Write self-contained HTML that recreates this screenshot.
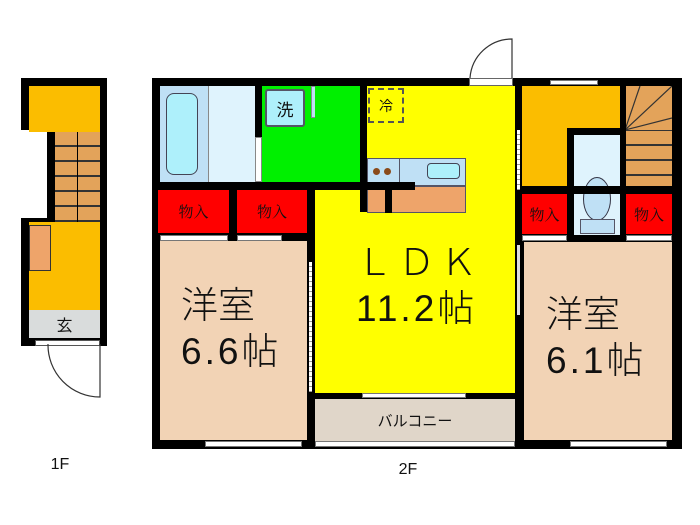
<!DOCTYPE html>
<html><head><meta charset="utf-8"><style>
body{margin:0;width:700px;height:525px;background:#fff;position:relative;overflow:hidden;font-family:"Liberation Serif","Noto Serif CJK SC",serif}
div{position:absolute;box-sizing:border-box}
.b{background:#000}
.t{display:flex;align-items:center;justify-content:center;color:#111}
.st{background:repeating-linear-gradient(#e3a35a 0 13px,#333 13px 15px);}
.rl{font-family:"Liberation Sans","Noto Sans CJK JP",sans-serif;font-weight:300;font-size:37px;line-height:46px;flex-direction:column;align-items:flex-start;color:#111}
</style></head><body>
<!-- 1F -->
<div class="b" style="left:21px;top:78px;width:86px;height:268px"></div>
<div style="left:0;top:130px;width:47px;height:90px;background:#fff"></div>
<div class="b" style="left:21px;top:122px;width:34px;height:8px"></div>
<div class="b" style="left:21px;top:218px;width:34px;height:8px"></div>
<div class="b" style="left:47px;top:122px;width:8px;height:104px"></div>
<div style="left:29px;top:86px;width:71px;height:46px;background:#fbbd00"></div>
<div class="st" style="left:55px;top:132px;width:45px;height:90px"></div>
<div class="b" style="left:77px;top:132px;width:1px;height:90px"></div>
<div style="left:29px;top:222px;width:71px;height:88px;background:#fbbd00"></div>
<div style="left:29px;top:225px;width:22px;height:46px;background:#eea46a;border:1px solid #333"></div>
<div class="t" style="left:29px;top:310px;width:71px;height:28px;background:#d9dcdc;font-size:16px;font-family:'Liberation Sans','Noto Sans CJK JP',sans-serif">玄</div>
<div style="left:35px;top:340px;width:65px;height:6px;background:#fff;border:1px solid #555"></div>
<svg style="position:absolute;left:30px;top:340px" width="80" height="70"><path d="M70 4 V57 A52 52 0 0 1 18 4" fill="none" stroke="#333" stroke-width="1.2"/></svg>
<div class="t" style="left:45px;top:455px;width:30px;height:20px;font-size:16px;font-family:'Liberation Sans',sans-serif">1F</div>

<!-- 2F outer -->
<div class="b" style="left:152px;top:78px;width:530px;height:371px"></div>
<!-- bath -->
<div style="left:160px;top:86px;width:48px;height:96px;background:#bfe0f5"></div>
<div style="left:166px;top:93px;width:32px;height:82px;background:#aef0fb;border:1.5px solid #445;border-radius:8px"></div>
<div style="left:208px;top:86px;width:47px;height:96px;background:#dff3fd;border-left:1px solid #888"></div>
<div style="left:255px;top:137px;width:7px;height:45px;background:#fff;border:1px solid #888"></div>
<!-- laundry -->
<div style="left:262px;top:86px;width:98px;height:96px;background:#00f000"></div>
<div class="t" style="left:265px;top:89px;width:40px;height:38px;background:#aef0fb;border:2px solid #556;border-radius:3px;font-size:17px;font-family:'Liberation Sans','Noto Sans CJK JP',sans-serif">洗</div>
<div style="left:311px;top:86px;width:49px;height:32px;background:#bfe0f5;border:1px solid #889"></div>
<div style="left:318px;top:93px;width:40px;height:16px;background:#aef0fb;border:1.5px solid #445;border-radius:8px"></div>
<div style="left:282px;top:183px;width:38px;height:4px;background:repeating-linear-gradient(90deg,#888 0 3px,#fff 3px 5px)"></div>
<!-- LDK -->
<div style="left:315px;top:86px;width:200px;height:309px;background:#ffff00"></div>
<div style="left:315px;top:86px;width:45px;height:100px;background:#00f000"></div>
<div class="b" style="left:258px;top:182px;width:102px;height:8px"></div>
<div class="b" style="left:360px;top:86px;width:7px;height:126px"></div>
<div style="left:367px;top:158px;width:99px;height:28px;background:#bfe0f5;border:1px solid #556"></div>
<div style="left:367px;top:158px;width:33px;height:28px;border-right:1px solid #556"></div>
<div style="left:373px;top:168px;width:7px;height:7px;border-radius:50%;background:#8a4a1a"></div>
<div style="left:384px;top:168px;width:7px;height:7px;border-radius:50%;background:#8a4a1a"></div>
<div style="left:427px;top:163px;width:33px;height:16px;background:#aef0fb;border:1.5px solid #445;border-radius:4px"></div>
<div style="left:367px;top:186px;width:99px;height:27px;background:#eea46a;border:1px solid #556"></div>
<div class="b" style="left:360px;top:182px;width:55px;height:8px"></div>
<div class="b" style="left:385px;top:182px;width:7px;height:31px"></div>
<div class="t" style="left:368px;top:88px;width:36px;height:35px;border:2px dashed #555;font-size:14px;font-family:'Liberation Sans','Noto Sans CJK JP',sans-serif">冷</div>
<!-- entry door -->
<div style="left:469px;top:78px;width:44px;height:8px;background:#fff;border:1px solid #666"></div>
<svg style="position:absolute;left:465px;top:35px" width="55" height="50"><path d="M47 43 V4 A42 42 0 0 0 5 43" fill="none" stroke="#333" stroke-width="1.2"/></svg>
<!-- wall left room / LDK -->
<div class="b" style="left:307px;top:186px;width:8px;height:263px"></div>
<div style="left:309px;top:262px;width:3px;height:130px;background:repeating-linear-gradient(#fff 0 4px,#999 4px 5px)"></div>
<div class="b" style="left:515px;top:86px;width:7px;height:363px"></div>
<div style="left:517px;top:130px;width:3px;height:60px;background:repeating-linear-gradient(#fff 0 4px,#999 4px 5px)"></div>
<div style="left:517px;top:245px;width:3px;height:70px;background:#ddd"></div>
<!-- closets left -->
<div class="t" style="left:158px;top:190px;width:71px;height:43px;background:#ff0000;font-size:15px">物入</div>
<div class="t" style="left:237px;top:190px;width:70px;height:43px;background:#ff0000;font-size:15px">物入</div>
<div style="left:160px;top:235px;width:68px;height:6px;background:#fff;border:1px solid #777"></div>
<div style="left:237px;top:235px;width:45px;height:6px;background:#fff;border:1px solid #777"></div>
<!-- left room -->
<div style="left:160px;top:241px;width:147px;height:199px;background:#f2d3b5"></div>
<div class="t rl" style="left:181px;top:283px;width:125px;height:92px">
<span>洋室</span><span style="letter-spacing:3px">6.6帖</span></div>
<div style="left:205px;top:441px;width:97px;height:6px;background:#fff;border:1px solid #777"></div>
<!-- LDK label -->
<div class="t rl" style="left:356px;top:240px;width:150px;height:92px">
<span style="letter-spacing:5px">ＬＤＫ</span><span style="letter-spacing:3px">11.2帖</span></div>
<!-- balcony -->
<div class="b" style="left:315px;top:393px;width:200px;height:6px"></div>
<div style="left:362px;top:393px;width:104px;height:5px;background:#fff;border:1px solid #777"></div>
<div class="t" style="left:315px;top:399px;width:200px;height:42px;background:#e0d6c9;font-size:15px;font-family:'Liberation Sans','Noto Sans CJK JP',sans-serif">バルコニー</div>
<div style="left:315px;top:441px;width:200px;height:6px;background:#fff;border:1px solid #777"></div>
<!-- right area -->
<div style="left:522px;top:86px;width:101px;height:102px;background:#fbbd00"></div>
<div class="st" style="left:625px;top:86px;width:47px;height:102px"></div>
<svg style="position:absolute;left:625px;top:86px" width="47" height="102"><rect x="0" y="0" width="47" height="44" fill="#e3a35a"/><path d="M0 44 L47 0 M0 44 L15 0 M0 44 L47 32" stroke="#333" stroke-width="1.2"/></svg>
<div style="left:550px;top:80px;width:48px;height:5px;background:#fff;border:1px solid #777"></div>
<div class="b" style="left:567px;top:128px;width:58px;height:110px"></div>
<div class="b" style="left:620px;top:86px;width:6px;height:150px"></div>
<div style="left:574px;top:135px;width:46px;height:100px;background:#dff3fd"></div>
<div style="left:583px;top:177px;width:28px;height:44px;border-radius:50%;background:#bfe0f5;border:1.5px solid #334"></div>
<div style="left:580px;top:219px;width:35px;height:15px;background:#bfe0f5;border:1px solid #556"></div>
<div class="b" style="left:522px;top:186px;width:160px;height:8px"></div>
<div class="t" style="left:522px;top:194px;width:45px;height:40px;background:#ff0000;font-size:15px">物入</div>
<div class="t" style="left:626px;top:194px;width:46px;height:40px;background:#ff0000;font-size:15px">物入</div>
<div style="left:522px;top:235px;width:45px;height:6px;background:#fff;border:1px solid #777"></div>
<div style="left:626px;top:235px;width:46px;height:6px;background:#fff;border:1px solid #777"></div>
<div style="left:524px;top:242px;width:148px;height:198px;background:#f2d3b5"></div>
<div class="t rl" style="left:546px;top:292px;width:125px;height:92px">
<span>洋室</span><span style="letter-spacing:3px">6.1帖</span></div>
<div style="left:570px;top:441px;width:97px;height:6px;background:#fff;border:1px solid #777"></div>
<div class="t" style="left:393px;top:460px;width:30px;height:20px;font-size:16px;font-family:'Liberation Sans',sans-serif">2F</div>
</body></html>
